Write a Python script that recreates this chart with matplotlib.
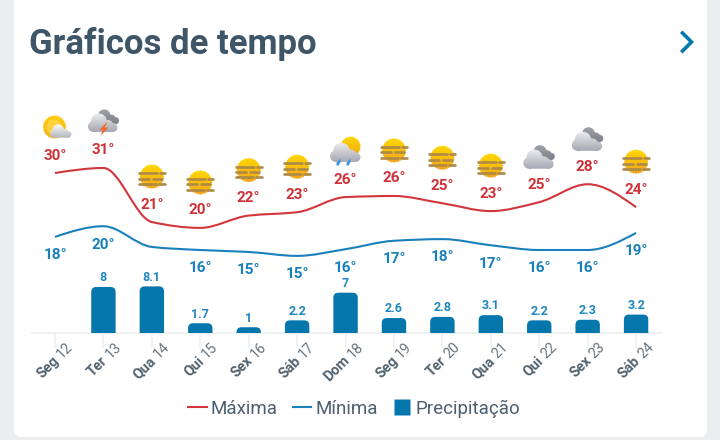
import numpy as np
import matplotlib
matplotlib.use('Agg')
import matplotlib.pyplot as plt
from matplotlib.colors import LinearSegmentedColormap
from matplotlib.lines import Line2D
from matplotlib.patches import Circle, FancyBboxPatch, PathPatch, Polygon
from matplotlib.path import Path

plt.rcParams['font.family'] = ['Roboto', 'DejaVu Sans']

# Chart data
weekdays = ['Seg', 'Ter', 'Qua', 'Qui', 'Sex', 'Sáb', 'Dom', 'Seg', 'Ter', 'Qua', 'Qui', 'Sex', 'Sáb']
daynums = [12, 13, 14, 15, 16, 17, 18, 19, 20, 21, 22, 23, 24]
tmax = [30, 30.9, 21.25, 20.2, 22.4, 23, 25.7, 25.9, 24.6, 23.2, 24.8, 28, 23.9]
tmax_labels = [30, 31, 21, 20, 22, 23, 26, 26, 25, 23, 25, 28, 24]
tmin = [18.6, 20.5, 16.8, 16.25, 15.9, 15.2, 16.4, 17.9, 18.2, 17.1, 16.25, 16.25, 19.3]
tmin_labels = [18, 20, None, 16, 15, 15, 16, 17, 18, 17, 16, 16, 19]
rain = [None, 8, 8.1, 1.7, 1, 2.2, 7, 2.6, 2.8, 3.1, 2.2, 2.3, 3.2]
icons = ['sun_cloud', 'storm', 'fog', 'fog', 'fog', 'fog', 'rain_sun',
         'fog', 'fog', 'fog', 'cloudy', 'cloudy', 'fog']

RED = '#d2353b'
BLUE = '#1a80bb'
BAR = '#0577ad'
DARK = '#3f5568'
GREY = '#eeeff0'

W, H = 720, 440
fig = plt.figure(figsize=(W / 100, H / 100), dpi=100, facecolor='#ecedef')

# Pixel canvas for card, title and icons (y grows downwards)
pix = fig.add_axes([0, 0, 1, 1], zorder=0)
pix.set_xlim(0, W)
pix.set_ylim(H, 0)
pix.axis('off')
pix.add_patch(FancyBboxPatch((14, -20), 693, 457, boxstyle='round,pad=0,rounding_size=7',
                             fc='white', ec='none'))
pix.text(29, 53.7, 'Gráficos de tempo', fontsize=25, fontweight='bold', color=DARK, va='baseline')
pix.plot([682.5, 691.5, 682.5], [33, 42, 51], color=BAR, lw=2.6, solid_joinstyle='miter')

# Main axes: temperature on the left scale, rain on a twin
left, right, top, bottom = 32, 662, 100, 333
rect = [left / W, 1 - bottom / H, (right - left) / W, (bottom - top) / H]
ax = fig.add_axes(rect, zorder=1)
ax.patch.set_visible(False)
ax.set_xlim(-0.475, 12.535)
ax.set_ylim(1.43, 43.04)
for s in ['top', 'left', 'right']:
    ax.spines[s].set_visible(False)
ax.spines['bottom'].set_color(GREY)
ax.spines['bottom'].set_linewidth(1.3)
days = np.arange(len(weekdays))
ax.set_xticks(days)
ax.set_xticklabels([])
ax.set_yticks([])
ax.tick_params(axis='x', length=11, width=1.1, color=GREY)

ax2 = ax.twinx()
ax2.set_ylim(0, 40.5)
ax2.set_yticks([])
ax2.patch.set_visible(False)
for s in ax2.spines.values():
    s.set_visible(False)


def smooth_path(xs, ys):
    # monotone cubic through the points, as bezier segments
    xs = np.asarray(xs, float)
    ys = np.asarray(ys, float)
    sec = np.diff(ys) / np.diff(xs)
    m = np.zeros(len(xs))
    for i in range(1, len(xs) - 1):
        if sec[i - 1] * sec[i] > 0:
            m[i] = 2 * sec[i - 1] * sec[i] / (sec[i - 1] + sec[i])
    m[0] = 1.5 * sec[0] - 0.5 * m[1]
    m[-1] = 1.5 * sec[-1] - 0.5 * m[-2]
    verts = [(xs[0], ys[0])]
    codes = [Path.MOVETO]
    for i in range(len(xs) - 1):
        h = (xs[i + 1] - xs[i]) / 3
        verts += [(xs[i] + h, ys[i] + m[i] * h), (xs[i + 1] - h, ys[i + 1] - m[i + 1] * h), (xs[i + 1], ys[i + 1])]
        codes += [Path.CURVE4] * 3
    return Path(verts, codes)


ax.add_patch(PathPatch(smooth_path(days, tmax), fill=False, ec=RED, lw=1.5))
ax.add_patch(PathPatch(smooth_path(days, tmin), fill=False, ec=BLUE, lw=1.5))

for d, v, lab in zip(days, tmax, tmax_labels):
    ax.annotate(f'{lab}°', (d, v), xytext=(0, 12.6), textcoords='offset points', ha='center', va='center',
                fontsize=11, fontweight='bold', color='#cf3138')
for d, v, lab in zip(days, tmin, tmin_labels):
    if lab is not None:
        ax.annotate(f'{lab}°', (d, v), xytext=(0, -13.2), textcoords='offset points', ha='center', va='center',
                    fontsize=11, fontweight='bold', color=BLUE)

# Rain bars with rounded tops
rx, ry = 5 / 48.42, 5 / 5.75
half = 12.2 / 48.42
for d, v in zip(days, rain):
    if v is None:
        continue
    r = min(ry, v)
    verts = [(d - half, 0), (d - half, v - r), (d - half, v), (d - half + rx, v),
             (d + half - rx, v), (d + half, v), (d + half, v - r), (d + half, 0), (d - half, 0)]
    codes = [Path.MOVETO, Path.LINETO, Path.CURVE3, Path.CURVE3,
             Path.LINETO, Path.CURVE3, Path.CURVE3, Path.LINETO, Path.CLOSEPOLY]
    ax2.add_patch(PathPatch(Path(verts, codes), fc=BAR, ec='none'))
    ax2.annotate(f'{v:g}', (d, v), xytext=(0, 6.6), textcoords='offset points', ha='center', va='center',
                 fontsize=9, fontweight='bold', color='#1f86bf')

# Rotated day labels: bold weekday, light number
for d, wd, n in zip(days, weekdays, daynums):
    ax.annotate(wd, (d, 1.43), xytext=(3.2, -20.5), textcoords='offset points', ha='right', va='baseline',
                rotation=45, rotation_mode='anchor', fontsize=10.3, fontweight='bold', color='#52636f')
    ax.annotate(str(n), (d, 1.43), xytext=(5.0, -18.7), textcoords='offset points', ha='left', va='baseline',
                rotation=45, rotation_mode='anchor', fontsize=10.3, color='#66747f')


# Weather icons, drawn on the pixel canvas
def gradient(path, c_top, c_bot, z=2):
    b = path.get_extents()
    cmap = LinearSegmentedColormap.from_list('g', [c_top, c_bot])
    im = pix.imshow(np.linspace(0, 1, 32).reshape(-1, 1), cmap=cmap, aspect='auto', zorder=z,
                    extent=(b.x0, b.x1, b.y1, b.y0))
    im.set_clip_path(path, transform=pix.transData)


def cloud(cx, cy, s, c_top='#eceded', c_bot='#a6a8b3', z=3):
    circles = [(-9.5, 3, 5.5), (-4, -2, 8), (5, 2, 5.5), (10, 4, 4.5)]
    parts = [Path.circle((cx + a * s, cy + b * s), r * s) for a, b, r in circles]
    parts.append(Path([(cx - 9.5 * s, cy + 2 * s), (cx + 10 * s, cy + 2 * s), (cx + 10 * s, cy + 8.5 * s),
                       (cx - 9.5 * s, cy + 8.5 * s), (cx - 9.5 * s, cy + 2 * s)],
                      [Path.MOVETO, Path.LINETO, Path.LINETO, Path.LINETO, Path.CLOSEPOLY]))
    gradient(Path.make_compound_path(*parts), c_top, c_bot, z)


def sun(cx, cy, r, c_top='#ffd800', c_bot='#f3a51d', z=2):
    t = np.linspace(0, 2 * np.pi, 64, endpoint=False)
    rad = np.where(np.arange(64) % 2 == 0, r + 0.9, r - 0.1)
    pts = np.c_[cx + rad * np.cos(t), cy + rad * np.sin(t)]
    gradient(Path(np.vstack([pts, pts[0]]), closed=True), c_top, c_bot, z)


def fog(cx, cy):
    sun(cx, cy, 11.5)
    col = '#ad8a45'
    rows = [(-3.3, [(-13, 5), (8, 13)]), (2, [(-13, -3), (1, 10)]), (7.2, [(-13, 4), (7, 13)])]
    for dy, pieces in rows:
        for x0, x1 in pieces:
            pix.plot([cx + x0, cx + x1], [cy + dy] * 2, color=col, lw=1.9, solid_capstyle='round', zorder=4)


def draw_icon(kind, cx, cy):
    if kind == 'fog':
        fog(cx, cy)
    elif kind == 'sun_cloud':
        sun(cx - 0.5, cy - 0.5, 11, '#ffcf10', '#f6b01e')
        pix.add_patch(Circle((cx - 1, cy - 0.5), 7.5, fc='#fdd23a', ec='none', zorder=2.5))
        cloud(cx + 6, cy + 4, 0.72, '#fbfbfb', '#b4b6bf')
    elif kind == 'storm':
        cloud(cx + 4, cy - 5, 0.8, '#a0a2ac', '#7d7f89', z=2)
        cloud(cx - 0.5, cy + 1, 1.0)
        bolt = np.array([(3, 0), (-4, 7.5), (-0.5, 7.5), (-3, 13.5), (5, 5), (1, 5), (4, 0)])
        pix.add_patch(Polygon(bolt + [cx, cy], fc='#f2682a', ec='none', zorder=5))
    elif kind == 'cloudy':
        cloud(cx + 4, cy - 3.5, 0.8, '#a0a2ac', '#7d7f89', z=2)
        cloud(cx - 0.5, cy + 3.3, 1.03)
    elif kind == 'rain_sun':
        sun(cx + 5, cy - 5, 9.5)
        cloud(cx, cy + 1.5, 1.03)
        for dx in (-7, 3):
            drop = np.array([(2, 7), (2, 10.5), (0, 14), (-2, 14), (-2, 11)])
            pix.add_patch(Polygon(drop + [cx + dx, cy], fc='#3f93dc', ec='none', zorder=5))


for d, v, kind in zip(days, tmax, icons):
    px, py = ax.transData.transform((d, v))
    draw_icon(kind, px, H - py - 45.5)
pix.set_xlim(0, W)
pix.set_ylim(H, 0)

# Legend
handles = [Line2D([], [], color=RED, lw=1.5), Line2D([], [], color=BLUE, lw=1.5),
           Line2D([], [], marker='s', ls='', ms=11.5, mfc=BAR, mec='none')]
fig.legend(handles, ['Máxima', 'Mínima', 'Precipitação'], loc='center', bbox_to_anchor=(354 / W, 1 - 408.5 / H),
           ncol=3, frameon=False, fontsize=13.5, labelcolor='#4d5f70', handlelength=1.0, numpoints=1,
           handletextpad=0.2, columnspacing=0.8, borderpad=0)

fig.savefig('out.png', dpi=100, facecolor=fig.get_facecolor())
